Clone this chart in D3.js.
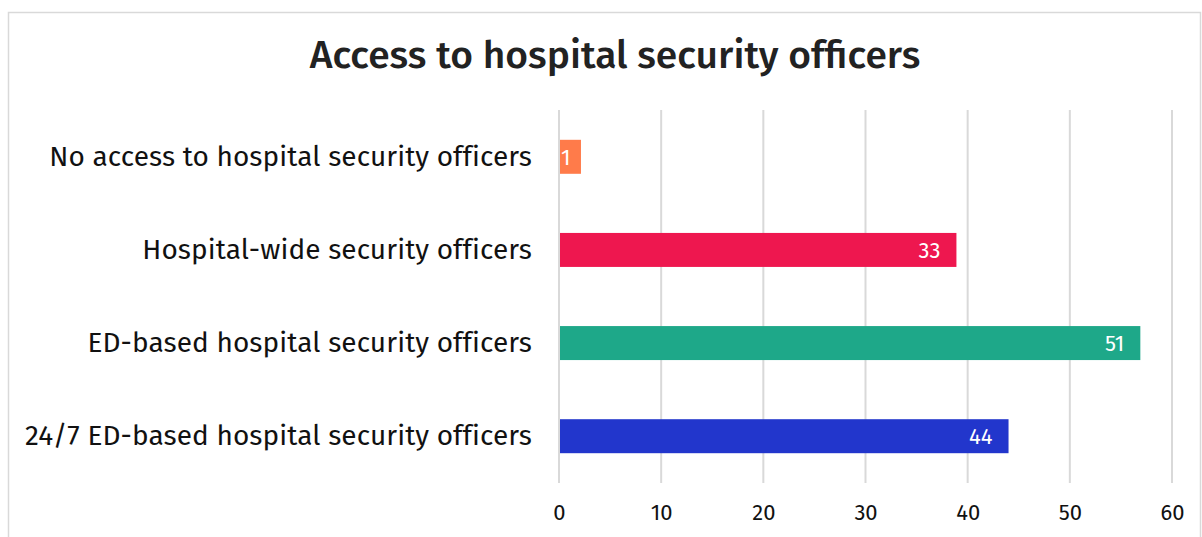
<!DOCTYPE html>
<html>
<head>
<meta charset="utf-8">
<script src="https://cdn.jsdelivr.net/npm/d3@7"></script>
<style>
  html, body { margin: 0; padding: 0; background: #fff; }
  svg { display: block; }
  svg text { font-family: "Fira Sans", "Noto Sans", "Open Sans", sans-serif; }
</style>
</head>
<body>
<div id="chart"></div>
<script>
// chart data
var categories = [
  "No access to hospital security officers",
  "Hospital-wide security officers",
  "ED-based hospital security officers",
  "24/7 ED-based hospital security officers"
];
var barValues = [2.15, 38.9, 56.9, 44];
var labelValues = ["1", "33", "51", "44"];
var barColors = ["#ff7b4a", "#ee174f", "#1ea889", "#2236cc"];
var tickValues = [0, 10, 20, 30, 40, 50, 60];

var width = 1202, height = 537;
var margin = { top: 110, right: 29, bottom: 54, left: 559 };
var fontStack = '"Fira Sans", "Noto Sans", "Open Sans", sans-serif';

var svg = d3.select("#chart").append("svg")
    .attr("width", width)
    .attr("height", height);

// outer frame
svg.append("rect")
    .attr("x", 8.5).attr("y", 12.5)
    .attr("width", 1192).attr("height", 540)
    .attr("fill", "none")
    .attr("stroke", "#d9d9d9")
    .attr("stroke-width", 1.5);

svg.append("text")
    .attr("x", 615).attr("y", 68)
    .attr("text-anchor", "middle")
    .style("font-size", "39px")
    .style("font-weight", 500)
    .style("fill", "#222")
    .text("Access to hospital security officers");

var x = d3.scaleLinear().domain([0, 60]).range([margin.left, width - margin.right - 1]);
var y = d3.scaleBand().domain(categories)
    .range([margin.top, height - margin.bottom])
    .paddingInner(0.635).paddingOuter(0.32);

// grid
svg.append("g").attr("class", "grid")
    .selectAll("line").data(tickValues).enter()
    .append("line")
    .attr("x1", function (d) { return x(d); })
    .attr("x2", function (d) { return x(d); })
    .attr("y1", margin.top)
    .attr("y2", height - margin.bottom)
    .style("stroke", "#d9d9d9")
    .style("stroke-width", 2);

// x tick labels
var xAxis = svg.append("g")
    .attr("transform", "translate(0," + (height - margin.bottom) + ")")
    .call(d3.axisBottom(x).tickValues(tickValues).tickSize(0).tickPadding(21));
xAxis.attr("font-family", fontStack);
xAxis.select(".domain").remove();
xAxis.selectAll("text")
    .style("font-size", "22px")
    .style("fill", "#111");

// category labels
var yAxis = svg.append("g")
    .attr("transform", "translate(" + margin.left + ",0)")
    .call(d3.axisLeft(y).tickSize(0).tickPadding(27));
yAxis.attr("font-family", fontStack);
yAxis.select(".domain").remove();
yAxis.selectAll("text")
    .style("font-size", "28px")
    .style("letter-spacing", "0.1px")
    .style("fill", "#111");

// bars
svg.append("g").selectAll("rect")
    .data(categories).enter()
    .append("rect")
    .attr("x", x(0) + 1)
    .attr("y", function (d) { return y(d); })
    .attr("width", function (d, i) { return x(barValues[i]) - x(0) - 1; })
    .attr("height", y.bandwidth())
    .attr("fill", function (d, i) { return barColors[i]; });

// value labels
svg.append("g").selectAll("text")
    .data(categories).enter()
    .append("text")
    .attr("y", function (d) { return y(d) + y.bandwidth() / 2; })
    .attr("dy", "0.36em")
    .style("font-size", "22px")
    .style("fill", "#fff")
    .text(function (d, i) { return labelValues[i]; })
    .attr("x", function (d, i) {
        var w = this.getComputedTextLength();
        var end = x(barValues[i]) - 16;
        return Math.max(end - w, x(0) + 2);
    });
</script>
</body>
</html>
